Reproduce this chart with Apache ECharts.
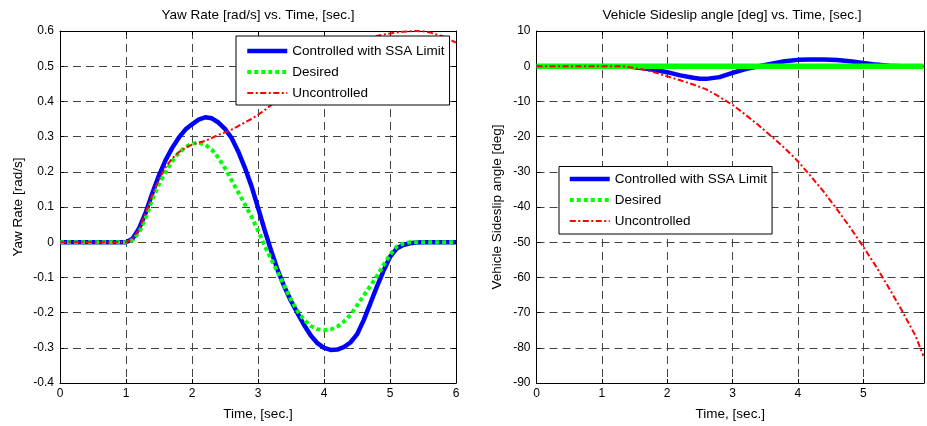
<!DOCTYPE html>
<html>
<head>
<meta charset="utf-8">
<title>Yaw rate / sideslip</title>
<script src="https://cdn.jsdelivr.net/npm/echarts@6/dist/echarts.min.js"></script>
<style>
  html, body { margin: 0; padding: 0; background: #fff; }
  #main { width: 927px; height: 426px; }
</style>
</head>
<body>
<div id="main"></div>
<script>
// time axis (sec) for left plot
var tYaw = [0, 0.5, 1.0, 1.1, 1.2, 1.3, 1.4, 1.5, 1.6, 1.7, 1.8, 1.9, 2.0, 2.1, 2.2, 2.3, 2.4, 2.5,
  2.6, 2.7, 2.8, 2.9, 3.0, 3.1, 3.2, 3.3, 3.4, 3.5, 3.6, 3.7, 3.8, 3.9, 4.0, 4.1, 4.2, 4.3, 4.4,
  4.5, 4.6, 4.7, 4.8, 4.9, 5.0, 5.1, 5.2, 5.3, 5.4, 5.5, 5.6, 5.8, 6.0];
// yaw rate [rad/s]
var yawControlled = [0, 0, 0, 0.01, 0.04, 0.085, 0.14, 0.19, 0.233, 0.268, 0.297, 0.32, 0.335, 0.348,
  0.355, 0.352, 0.34, 0.322, 0.296, 0.258, 0.212, 0.16, 0.098, 0.035, -0.025, -0.08, -0.127, -0.167,
  -0.202, -0.236, -0.265, -0.287, -0.3, -0.306, -0.305, -0.298, -0.285, -0.262, -0.222, -0.175,
  -0.127, -0.082, -0.042, -0.018, -0.008, -0.003, -0.001, 0, 0, 0, 0];
var yawDesired = [0, 0, 0, 0.006, 0.028, 0.07, 0.122, 0.165, 0.2, 0.23, 0.254, 0.27, 0.28, 0.283,
  0.277, 0.263, 0.24, 0.21, 0.176, 0.142, 0.108, 0.073, 0.033, -0.01, -0.048, -0.086, -0.125, -0.163,
  -0.196, -0.221, -0.238, -0.247, -0.25, -0.248, -0.24, -0.226, -0.207, -0.18, -0.152, -0.125,
  -0.097, -0.066, -0.036, -0.013, -0.004, 0, 0, 0, 0, 0, 0];
var yawUncontrolled = [0, 0, 0, 0.01, 0.037, 0.085, 0.135, 0.178, 0.213, 0.238, 0.256, 0.268, 0.277,
  0.283, 0.288, 0.296, 0.305, 0.312, 0.32, 0.33, 0.34, 0.35, 0.362, 0.375, 0.39, 0.405, 0.42, 0.435,
  0.45, 0.465, 0.48, 0.495, 0.51, 0.523, 0.536, 0.548, 0.558, 0.567, 0.575, 0.581, 0.586, 0.59,
  0.593, 0.596, 0.598, 0.599, 0.6, 0.599, 0.596, 0.585, 0.567];

// time axis (sec) for right plot
var tSlip = [0, 1.0, 1.3, 1.4, 1.6, 1.8, 2.0, 2.2, 2.4, 2.5, 2.6, 2.8, 3.0, 3.2, 3.4, 3.6, 3.8, 4.0,
  4.2, 4.4, 4.6, 4.8, 5.0, 5.2, 5.4, 5.6, 5.8, 5.92];
// sideslip angle [deg]
var slipControlled = [0, 0, 0, -0.1, -0.5, -1.0, -1.7, -2.6, -3.3, -3.55, -3.6, -3.1, -1.9, -0.8, 0,
  0.7, 1.4, 1.8, 1.9, 1.9, 1.75, 1.4, 0.9, 0.45, 0.15, 0, 0, 0];
var slipDesired = [0, 0, 0, 0, 0, 0, 0, 0, 0, 0, 0, 0, 0, 0, 0, 0, 0, 0, 0, 0, 0, 0, 0, 0, 0, 0, 0, 0];
var slipUncontrolled = [0, 0, 0, -0.2, -0.8, -1.7, -2.9, -4.0, -5.2, -5.9, -6.6, -8.7, -11.0, -13.8,
  -16.8, -20, -23.3, -27, -31.3, -35.8, -40.7, -45.8, -51.3, -57, -63.2, -69.7, -76.6, -82.3];

var names = ["Controlled with SSA Limit", "Desired", "Uncontrolled"];

var FONT = "'Liberation Sans', Arial, sans-serif";

function pairs(t, v) {
  return t.map(function (x, i) { return [x, v[i]]; });
}

var gridLine = { show: true, lineStyle: { color: "#444", width: 1, type: [8, 5] } };
var blackLine = { show: true, onZero: false, lineStyle: { color: "#000", width: 1 } };
var tick = { show: true, inside: true, length: 4, lineStyle: { color: "#000" } };
var tickLabel = { color: "#000", fontSize: 12, fontFamily: FONT };
var nameStyle = { color: "#000", fontSize: 13.5, fontFamily: FONT };

// main axes plus a bare copy on top / right to close the box
function xAxes(grid, max) {
  return [
    {
      type: "value", gridIndex: grid, min: 0, max: max, interval: 1, position: "bottom",
      name: "Time, [sec.]", nameLocation: "middle", nameGap: 24, nameTextStyle: nameStyle,
      axisLine: blackLine, axisTick: tick, splitLine: gridLine,
      axisLabel: Object.assign({ margin: 5, formatter: function (v) { return Number.isInteger(v) ? v : ""; } }, tickLabel)
    },
    {
      type: "value", gridIndex: grid, min: 0, max: max, interval: 1, position: "top",
      axisLine: blackLine, axisTick: tick, splitLine: { show: false }, axisLabel: { show: false }
    }
  ];
}
function yAxes(grid, min, max, step, title, gap) {
  return [
    {
      type: "value", gridIndex: grid, min: min, max: max, interval: step, position: "left",
      name: title, nameLocation: "middle", nameGap: gap, nameTextStyle: nameStyle,
      axisLine: blackLine, axisTick: tick, splitLine: gridLine,
      axisLabel: Object.assign({ margin: 6 }, tickLabel)
    },
    {
      type: "value", gridIndex: grid, min: min, max: max, interval: step, position: "right",
      axisLine: blackLine, axisTick: tick, splitLine: { show: false }, axisLabel: { show: false }
    }
  ];
}

var styles = [
  { color: "#0000ff", width: 4.5, type: "solid" },
  { color: "#00ff00", width: 4, type: [4, 3] },
  { color: "#ff0000", width: 2, type: [6, 2.5, 2, 2.5] }
];

function makeSeries(xi, yi, t, data, greenSolid) {
  return data.map(function (v, k) {
    var ls = Object.assign({}, styles[k]);
    if (greenSolid && k === 1) { ls.type = "solid"; ls.width = 5.5; }
    return {
      name: names[k], type: "line", xAxisIndex: xi, yAxisIndex: yi,
      data: pairs(t, v), symbol: "none", lineStyle: ls, z: 2 + k
    };
  });
}

function legendBox(left, top, padding) {
  return {
    orient: "vertical", left: left, top: top, padding: padding,
    itemWidth: 40, itemHeight: 14, itemGap: 7, itemTextGap: 3,
    backgroundColor: "#fff", borderColor: "#000", borderWidth: 1, borderRadius: 0,
    selectedMode: false, z: 10,
    textStyle: { color: "#000", fontSize: 13.5, fontFamily: FONT },
    data: names.map(function (n, k) {
      return {
        name: n,
        // line sample only, hide the marker ECharts puts in the middle
        itemStyle: { color: "rgba(0,0,0,0)", borderWidth: 0 },
        lineStyle: { width: styles[k].width, type: styles[k].type, color: styles[k].color }
      };
    })
  };
}

var option = {
  animation: false,
  backgroundColor: "#fff",
  textStyle: { fontFamily: FONT },
  title: [
    { text: "Yaw Rate [rad/s] vs. Time, [sec.]", left: 258, top: 8, textAlign: "center", padding: 0,
      textStyle: { color: "#000", fontSize: 13.5, fontWeight: "normal", fontFamily: FONT } },
    { text: "Vehicle Sideslip angle [deg] vs. Time, [sec.]", left: 732, top: 8, textAlign: "center", padding: 0,
      textStyle: { color: "#000", fontSize: 13.5, fontWeight: "normal", fontFamily: FONT } }
  ],
  legend: [
    legendBox(236, 36, [8, 5, 5, 9]),
    legendBox(559, 166.5, [5.5, 5, 6, 8.5])
  ],
  grid: [
    { left: 60, top: 31, width: 396, height: 353 },
    { left: 536.5, top: 31, width: 391, height: 353 }
  ],
  xAxis: xAxes(0, 6).concat(xAxes(1, 5.93)),
  yAxis: yAxes(0, -0.4, 0.6, 0.1, "Yaw Rate [rad/s]", 35)
    .concat(yAxes(1, -90, 10, 10, "Vehicle Sideslip angle [deg]", 32)),
  series: makeSeries(0, 0, tYaw, [yawControlled, yawDesired, yawUncontrolled], false)
    .concat(makeSeries(2, 2, tSlip, [slipControlled, slipDesired, slipUncontrolled], true))
};

var myChart = echarts.init(document.getElementById("main"));
myChart.setOption(option);
</script>
</body>
</html>
